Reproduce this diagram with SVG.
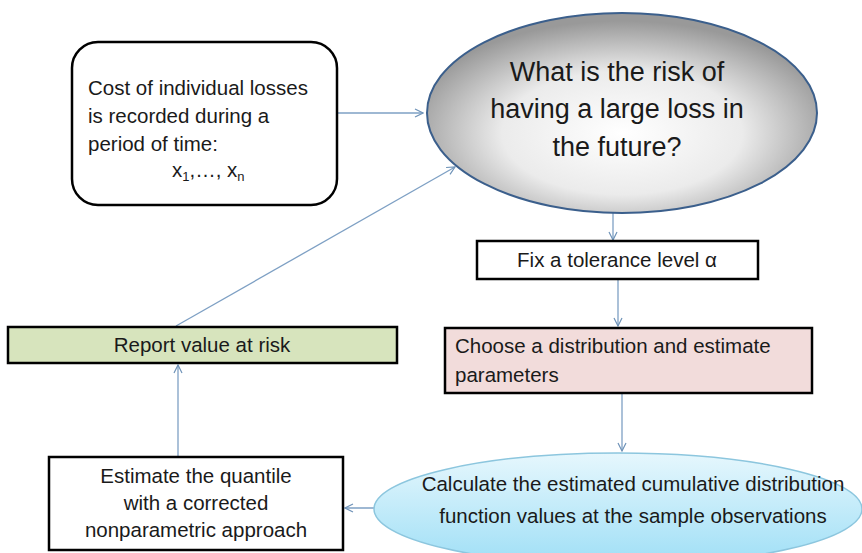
<svg xmlns="http://www.w3.org/2000/svg" width="862" height="553" viewBox="0 0 862 553">
<defs>
<radialGradient id="gray" cx="50%" cy="60%" r="56%">
<stop offset="0" stop-color="#ffffff"/>
<stop offset="0.55" stop-color="#ebebeb"/>
<stop offset="1" stop-color="#999999"/>
</radialGradient>
<linearGradient id="blue" x1="0" y1="0" x2="0" y2="1">
<stop offset="0" stop-color="#e6f7fd"/>
<stop offset="1" stop-color="#9fdff6"/>
</linearGradient>
<marker id="arr" viewBox="0 0 10 10" refX="9" refY="5" markerWidth="10" markerHeight="10" markerUnits="userSpaceOnUse" orient="auto">
<path d="M1,1 L9,5 L1,9" fill="none" stroke="#6f93b8" stroke-width="1.2"/>
</marker>
</defs>
<style>
text{font-family:"Liberation Sans",Arial,sans-serif;fill:#1a1a1a}
.t{font-size:20.5px}
.big{font-size:27px}
.box{stroke:#000;stroke-width:2.5}
.c{fill:none;stroke:#7ea0c4;stroke-width:1.3;marker-end:url(#arr)}
</style>
<rect width="862" height="553" fill="#fff"/>
<g id="connectors">
<line class="c" x1="337" y1="113" x2="423" y2="113"/>
<line class="c" x1="613" y1="213" x2="613" y2="240"/>
<line class="c" x1="618" y1="280" x2="618" y2="326"/>
<line class="c" x1="622" y1="394" x2="622" y2="451"/>
<line class="c" x1="378" y1="508" x2="345" y2="508"/>
<line class="c" x1="178" y1="456" x2="178" y2="365"/>
<line class="c" x1="176" y1="326" x2="455" y2="167"/>
</g>
<g id="n1">
<rect class="box" x="72" y="42" width="265" height="163" rx="26" fill="#fff"/>
<text class="t" x="88" y="95">Cost of  individual losses</text>
<text class="t" x="88" y="123">is recorded during a</text>
<text class="t" x="88" y="151">period of time:</text>
<text class="t" x="172" y="177">x<tspan font-size="13" dy="4">1</tspan><tspan dy="-4">,…, x</tspan><tspan font-size="13" dy="4">n</tspan></text>
</g>
<g id="n2">
<ellipse cx="622" cy="113" rx="195" ry="100" fill="url(#gray)" stroke="#3b5f8c" stroke-width="2"/>
<text class="big" x="617" y="81" text-anchor="middle">What is the risk of</text>
<text class="big" x="617" y="118" text-anchor="middle">having a large loss in</text>
<text class="big" x="617" y="156" text-anchor="middle">the future?</text>
</g>
<g id="n3">
<rect class="box" x="477" y="241" width="281" height="38" fill="#fff"/>
<text class="t" x="617" y="267" text-anchor="middle">Fix a tolerance level α</text>
</g>
<g id="n4">
<rect class="box" x="445" y="328" width="367" height="65" fill="#f2dcdb"/>
<text class="t" x="455" y="353">Choose a distribution and estimate</text>
<text class="t" x="455" y="382">parameters</text>
</g>
<g id="n5">
<ellipse cx="618" cy="509" rx="244" ry="56" fill="url(#blue)" stroke="#8cc6de" stroke-width="1.5"/>
<text class="t" x="633" y="491" text-anchor="middle">Calculate the estimated cumulative distribution</text>
<text class="t" x="633" y="523" text-anchor="middle">function values at the sample observations</text>
</g>
<g id="n6">
<rect class="box" x="49" y="457" width="294" height="93" fill="#fff"/>
<text class="t" x="196" y="483" text-anchor="middle">Estimate the quantile</text>
<text class="t" x="196" y="510" text-anchor="middle">with a corrected</text>
<text class="t" x="196" y="537" text-anchor="middle">nonparametric approach</text>
</g>
<g id="n7">
<rect class="box" x="8" y="327" width="389" height="36" fill="#d7e4bd"/>
<text class="t" x="202" y="352" text-anchor="middle">Report value at risk</text>
</g>
</svg>
